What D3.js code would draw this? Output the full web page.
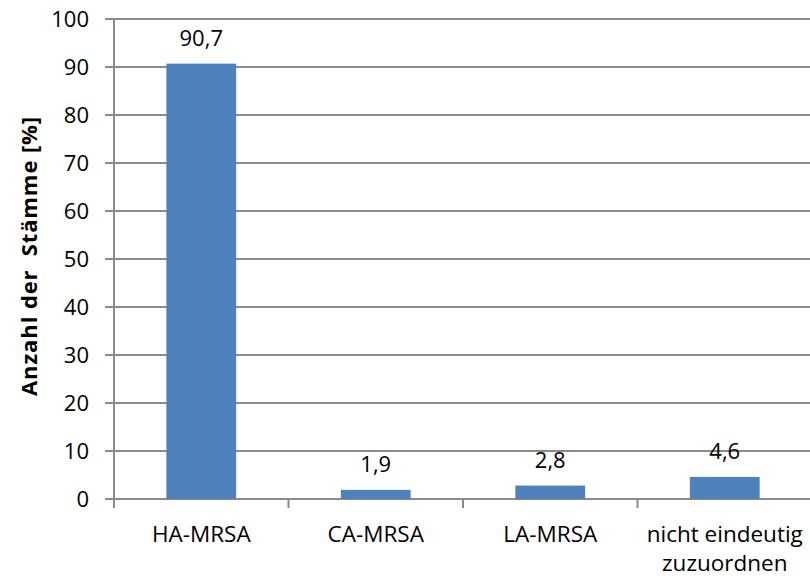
<!DOCTYPE html>
<html>
<head>
<meta charset="utf-8">
<script src="https://cdn.jsdelivr.net/npm/d3@7"></script>
<style>
  body { margin: 0; background: #fff; }
  text { font-family: "Open Sans", sans-serif; fill: #000; }
</style>
</head>
<body>
<div id="chart"></div>
<script>
const categories = ["HA-MRSA", "CA-MRSA", "LA-MRSA", "nicht eindeutig zuzuordnen"];
const values = [90.7, 1.9, 2.8, 4.6];
const valueLabels = ["90,7", "1,9", "2,8", "4,6"];
const yTicks = [0, 10, 20, 30, 40, 50, 60, 70, 80, 90, 100];
const yTitle = "Anzahl der  Stämme [%]";

const W = 810, H = 578;
const margin = { top: 19, right: -2, bottom: 79, left: 114 };
const width = W - margin.left - margin.right;
const height = H - margin.top - margin.bottom;

const svg = d3.select("#chart").append("svg").attr("width", W).attr("height", H);
const g = svg.append("g").attr("transform", `translate(${margin.left},${margin.top})`);

const x = d3.scaleBand().domain(categories).range([0, width]).paddingInner(0.6).paddingOuter(0.3);
const xBand = d3.scaleBand().domain(categories).range([0, width]);
const y = d3.scaleLinear().domain([0, 100]).range([height, 0]);

// gridlines
g.selectAll(".grid")
  .data(yTicks)
  .enter()
  .append("line")
  .attr("x1", -9)
  .attr("x2", width)
  .attr("y1", d => y(d))
  .attr("y2", d => y(d))
  .style("stroke", "#8a8a8a")
  .style("stroke-width", 2);

// y axis labels
g.selectAll(".ylab")
  .data(yTicks)
  .enter()
  .append("text")
  .attr("x", -25)
  .attr("y", d => y(d))
  .attr("dy", "0.36em")
  .style("text-anchor", "end")
  .style("font-size", "22px")
  .text(d => d);

// bars
g.selectAll(".bar")
  .data(values)
  .enter()
  .append("rect")
  .attr("x", (d, i) => x(categories[i]))
  .attr("width", x.bandwidth())
  .attr("y", d => y(d))
  .attr("height", d => height - y(d))
  .style("fill", "#4f81bd");

// y axis line
g.append("line")
  .attr("x1", 0).attr("x2", 0)
  .attr("y1", 0).attr("y2", height)
  .style("stroke", "#8a8a8a")
  .style("stroke-width", 2);

// category tick marks
const tickPos = categories.map(c => xBand(c)).concat([width]);
g.selectAll(".xtick")
  .data(tickPos)
  .enter()
  .append("line")
  .attr("x1", d => d).attr("x2", d => d)
  .attr("y1", height).attr("y2", height + 9)
  .style("stroke", "#8a8a8a")
  .style("stroke-width", 2);

// value labels
g.selectAll(".vlab")
  .data(values)
  .enter()
  .append("text")
  .attr("x", (d, i) => x(categories[i]) + x.bandwidth() / 2)
  .attr("y", d => y(d) - 18)
  .style("text-anchor", "middle")
  .style("font-size", "22px")
  .text((d, i) => valueLabels[i]);

// category labels
categories.forEach(c => {
  const words = c === "nicht eindeutig zuzuordnen" ? ["nicht eindeutig", "zuzuordnen"] : [c];
  const t = g.append("text")
    .attr("x", xBand(c) + xBand.bandwidth() / 2)
    .attr("y", height + 43)
    .style("text-anchor", "middle")
    .style("font-size", "22.5px");
  words.forEach((w, i) => {
    t.append("tspan")
      .attr("x", xBand(c) + xBand.bandwidth() / 2)
      .attr("dy", i === 0 ? 0 : 29)
      .text(w);
  });
});

// y title
svg.append("text")
  .attr("transform", "translate(37,256) rotate(-90)")
  .style("text-anchor", "middle")
  .style("font-size", "22px")
  .style("font-weight", "bold")
  .style("white-space", "pre")
  .style("letter-spacing", "0.9px")
  .text(yTitle);
</script>
</body>
</html>
